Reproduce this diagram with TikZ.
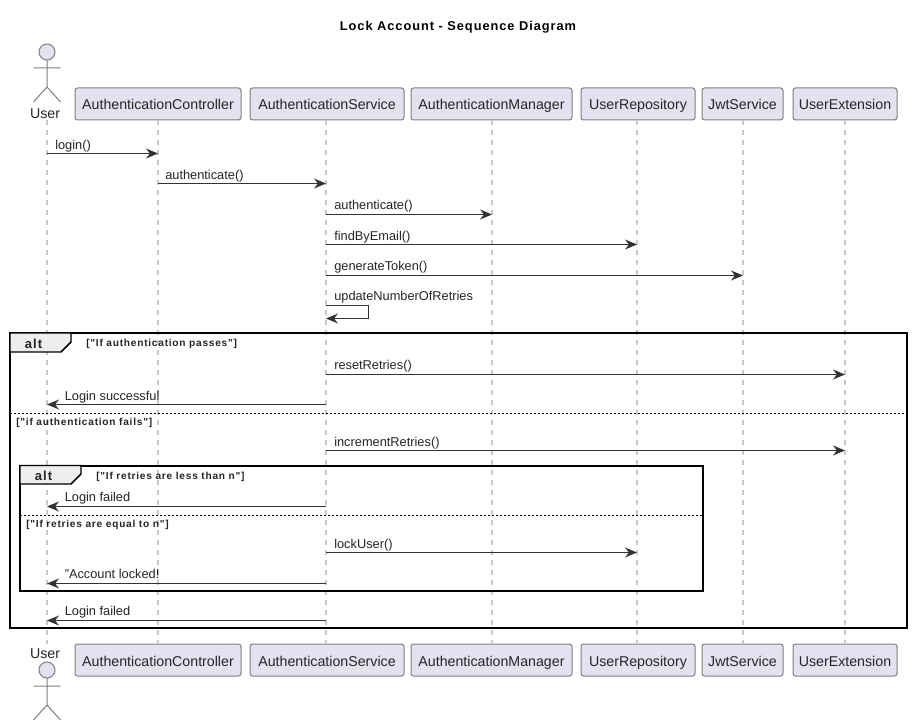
\documentclass[tikz,border=0pt]{standalone}
\usepackage{fontspec}
\setmainfont{Liberation Sans}
\newfontfamily\titlefont[LetterSpace=7.5]{Liberation Sans}
\newfontfamily\guardfont[LetterSpace=7.5]{Liberation Sans}
\usetikzlibrary{arrows.meta,calc}
\definecolor{actorfill}{HTML}{E2E2F0}
\definecolor{actorline}{HTML}{7F7F7F}
\definecolor{lifeline}{HTML}{C8C8C8}
\definecolor{msgline}{HTML}{333333}
\definecolor{tabfill}{HTML}{EEEEEE}
\tikzset{
  x=0.75pt,y=-0.75pt,
  actorbox/.style={draw=actorline,fill=actorfill,rounded corners=1.9pt,line width=0.75pt,minimum height=24pt,inner sep=0pt,text height=10pt,text depth=1pt,text=black!85,font=\fontsize{10.65pt}{12pt}\selectfont},
  stick/.style={draw=actorline,line width=0.75pt},
  lifeln/.style={draw=lifeline,line width=1.5pt,dash pattern=on 3.75pt off 3.75pt},
  msg/.style={draw=msgline,line width=1.05pt,-{Stealth[length=9pt,width=7.5pt,inset=3pt]}},
  msgtext/.style={anchor=base west,inner sep=0pt,text=black!85,font=\fontsize{9.6pt}{11pt}\selectfont},
  frameb/.style={draw=black,line width=1.5pt},
  sep/.style={draw=black,line width=0.75pt,dash pattern=on 1.5pt off 1.5pt},
  tab/.style={draw=black,line width=1.1pt,fill=tabfill},
  alttext/.style={inner sep=0pt,font=\guardfont\fontsize{9.8pt}{11pt}\bfseries\selectfont,text=black!85},
  guard/.style={anchor=base west,inner sep=0pt,font=\guardfont\fontsize{7.6pt}{9pt}\bfseries\selectfont,text=black!85},
}
\newcommand{\actorfig}[2]{% x, top of head y
  \draw[stick,fill=actorfill] (#1,#2+8) circle[radius=6pt];
  \draw[stick] (#1,#2+16) -- (#1,#2+43) (#1-13.5,#2+24) -- (#1+13.5,#2+24)
    (#1-13.5,#2+58) -- (#1,#2+43) -- (#1+13.5,#2+58);
}
\begin{document}
\begin{tikzpicture}
\useasboundingbox (0,0) rectangle (914,727);
\fill[white] (0,0) rectangle (914,727);
\node[inner sep=0pt,font=\titlefont\fontsize{9.6pt}{12pt}\bfseries\selectfont] (title) at (458,27) {Lock Account - Sequence Diagram};
\coordinate (userT) at (47,120); \coordinate (userB) at (47,644);
\node[actorbox,minimum width=124.5pt] (ctrlT) at (158,104) {AuthenticationController};
\node[actorbox,minimum width=115.5pt] (svcT) at (327,104) {AuthenticationService};
\node[actorbox,minimum width=120.75pt] (mgrT) at (491.5,104) {AuthenticationManager};
\node[actorbox,minimum width=85.5pt] (repoT) at (638,104) {UserRepository};
\node[actorbox,minimum width=60.75pt] (jwtT) at (742.5,104) {JwtService};
\node[actorbox,minimum width=78pt] (extT) at (845,104) {UserExtension};
\node[actorbox,minimum width=124.5pt] (ctrlB) at (158,660) {AuthenticationController};
\node[actorbox,minimum width=115.5pt] (svcB) at (327,660) {AuthenticationService};
\node[actorbox,minimum width=120.75pt] (mgrB) at (491.5,660) {AuthenticationManager};
\node[actorbox,minimum width=85.5pt] (repoB) at (638,660) {UserRepository};
\node[actorbox,minimum width=60.75pt] (jwtB) at (742.5,660) {JwtService};
\node[actorbox,minimum width=78pt] (extB) at (845,660) {UserExtension};
\coordinate (user) at (47,0); \coordinate (ctrl) at (158,0); \coordinate (svc) at (326,0);
\coordinate (mgr) at (492,0); \coordinate (repo) at (637,0); \coordinate (jwt) at (743,0); \coordinate (ext) at (845,0);
\foreach \n in {user,ctrl,svc,mgr,repo,jwt,ext}
  \draw[lifeln] (\n |- userT) -- (\n |- userB);
\actorfig{47}{44}
\node[inner sep=0pt,text=black!85,font=\fontsize{10.65pt}{12pt}\selectfont] (userTop) at (45,113.5) {User};
\node[inner sep=0pt,text=black!85,font=\fontsize{10.65pt}{12pt}\selectfont] (userBot) at (45,654) {User};
\actorfig{47}{662}
\draw[msg] (user |- 0,153.5) -- (ctrl |- 0,153.5);
\node[msgtext] at (55,149.5) {login()};
\draw[msg] (ctrl |- 0,183.5) -- (svc |- 0,183.5);
\node[msgtext] at (165,179.5) {authenticate()};
\draw[msg] (svc |- 0,214.5) -- (mgr |- 0,214.5);
\node[msgtext] at (334,209.5) {authenticate()};
\draw[msg] (svc |- 0,244.5) -- (repo |- 0,244.5);
\node[msgtext] at (334,240.5) {findByEmail()};
\draw[msg] (svc |- 0,275.5) -- (jwt |- 0,275.5);
\node[msgtext] at (334,270.5) {generateToken()};
\draw[msg] (svc |- 0,305.5) -- (368.5,305.5) -- (368.5,318.5) -- (svc |- 0,318.5);
\node[msgtext] at (334,300.5) {updateNumberOfRetries};
\draw[msg] (svc |- 0,374.5) -- (ext |- 0,374.5);
\node[msgtext] at (334,369.5) {resetRetries()};
\draw[msg] (svc |- 0,404.5) -- (user |- 0,404.5);
\node[msgtext] at (64.5,400.5) {Login successful};
\draw[msg] (svc |- 0,450.5) -- (ext |- 0,450.5);
\node[msgtext] at (334,446.5) {incrementRetries()};
\draw[msg] (svc |- 0,506.5) -- (user |- 0,506.5);
\node[msgtext] at (64.5,501.5) {Login failed};
\draw[msg] (svc |- 0,552.5) -- (repo |- 0,552.5);
\node[msgtext] at (334,548.5) {lockUser()};
\draw[msg] (svc |- 0,583.5) -- (user |- 0,583.5);
\node[msgtext] at (64.5,578.5) {"Account locked!};
\draw[msg] (svc |- 0,620.5) -- (user |- 0,620.5);
\node[msgtext] at (64.5,615.5) {Login failed};
\draw[frameb] (10,333) rectangle (907,628);
\draw[tab] (10,333) -- (71,333) -- (71,342) -- (61,352) -- (10,352) -- cycle;
\node[alttext] at (33.5,343.5) {alt};
\node[guard] at (86,347) {["If authentication passes"]};
\draw[sep] (10,413.5) -- (907,413.5);
\node[guard] at (16,425) {["if authentication fails"]};
\draw[frameb] (20,465.5) rectangle (703,591);
\draw[tab] (20,465.5) -- (81,465.5) -- (81,474) -- (71,484) -- (20,484) -- cycle;
\node[alttext] at (43.5,476) {alt};
\node[guard] at (96,479) {["If retries are less than n"]};
\draw[sep] (20,515.5) -- (703,515.5);
\node[guard] at (26,527.5) {["If retries are equal to n"]};
\end{tikzpicture}
\end{document}
